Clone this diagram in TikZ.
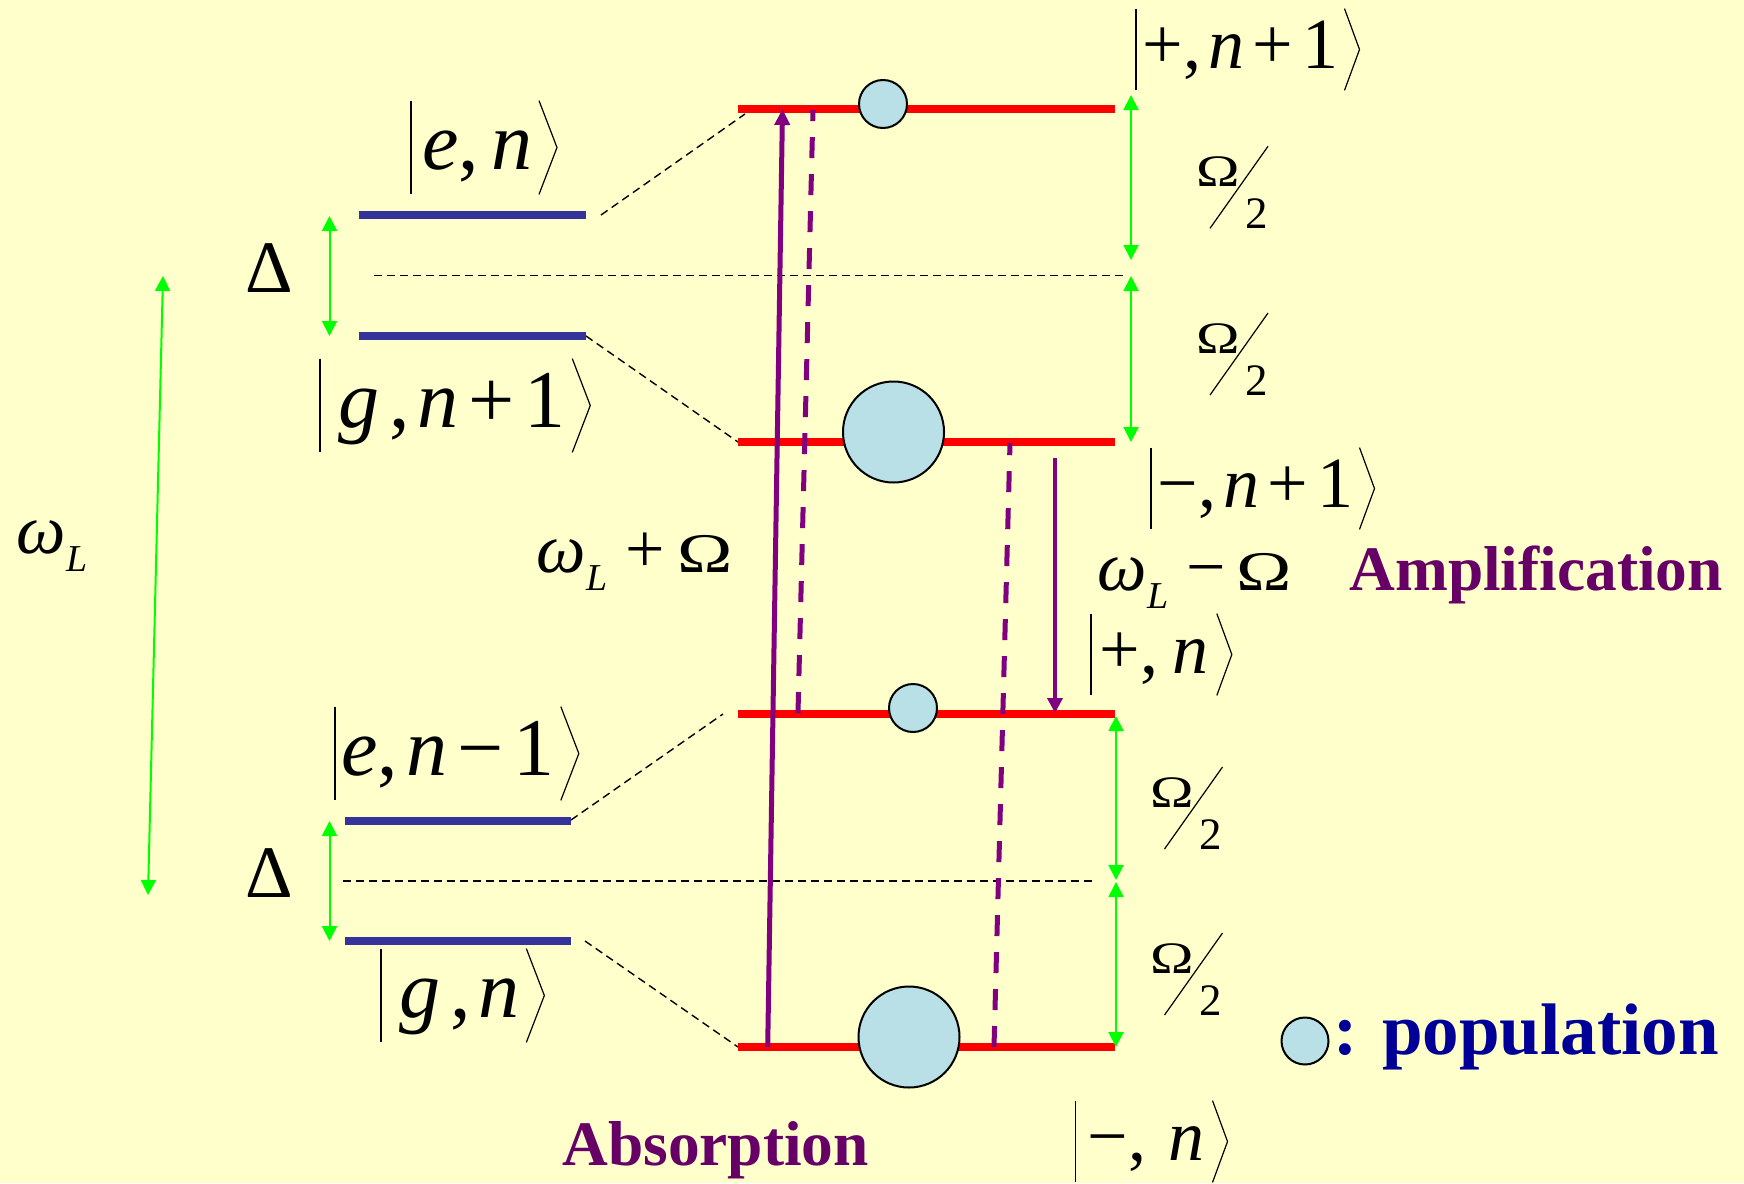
\documentclass[tikz,border=0pt]{standalone}
\usepackage{fontspec}
\setmainfont{Liberation Serif}
\usetikzlibrary{arrows.meta}
\definecolor{bgyel}{HTML}{FFFFCC}
\definecolor{lvlblue}{HTML}{333399}
\definecolor{lvlred}{HTML}{FF0000}
\definecolor{gapgreen}{HTML}{00FF00}
\definecolor{purp}{HTML}{800080}
\definecolor{purptext}{HTML}{660066}
\definecolor{navy}{HTML}{000099}
\definecolor{popfill}{HTML}{B8E0E6}
\newcommand\kgap{\hspace{0.12em}}
\newcommand\ketlabel[5]{%
  \node[#1] (#2) at #3 {#5};
  \draw[ketline] (#2.north west) -- (#2.south west);
  \draw[ketline] (#2.north east) -- ([xshift=#4]#2.east) -- (#2.south east);
}
\newcommand\halfOm[3]{%
  \coordinate (#1) at (#2,#3);
  \node[lbl, font={\fontsize{22.5}{22.5}\selectfont}] (#1-o) at ([shift={(-14,-41.6)}]#1) {\scalebox{1.3}[1]{Ω}};
  \node[lbl, font={\fontsize{22.5}{22.5}\selectfont}] (#1-t) at ([shift={(35,0)}]#1) {2};
  \coordinate (#1-e) at ([shift={(58,-82)}]#1);
  \draw[ketline] (#1) -- (#1-e);
}
\newcommand\omL{{\itshape ω}\kern0.5pt\raisebox{-9.3pt}{\fontsize{19}{19}\selectfont\itshape L}}
\newcommand\bigOm{{\fontsize{28}{28}\selectfont\scalebox{1.33}[1]{Ω}}}
\begin{document}
\begin{tikzpicture}[x=0.5pt,y=-0.5pt,
  redlvl/.style={draw=lvlred, line width=3.8pt},
  bluelvl/.style={draw=lvlblue, line width=4pt},
  guide/.style={draw=black, line width=0.7pt, dash pattern=on 4pt off 2.5pt},
  pop/.style={circle, draw=black, line width=1pt, fill=popfill, inner sep=0pt},
  gaparrow/.style={draw=gapgreen, line width=1pt, {Triangle[width=7.5pt,length=7.5pt]}-{Triangle[width=7.5pt,length=7.5pt]}},
  absarrow/.style={draw=purp, line width=2.5pt, -{Triangle[width=7.5pt,length=8pt]}},
  emarrow/.style={draw=purp, line width=1.8pt, -{Triangle[width=7.5pt,length=7.5pt]}},
  emdash/.style={draw=purp, line width=2.5pt, dash pattern=on 10.5pt off 8pt},
  ketline/.style={draw=black, line width=0.6pt},
  ket/.style={anchor=base west, inner xsep=3pt, inner ysep=0pt},
  ketL/.style={ket, font={\fontsize{41}{41}\selectfont}, text height=34pt, text depth=12.5pt},
  ketR/.style={ket, font={\fontsize{36}{36}\selectfont}, text height=29.5pt, text depth=11pt},
  lbl/.style={anchor=base west, inner sep=0pt}
]
\fill[bgyel] (0,0) rectangle (1744,1183);
\useasboundingbox (0,0) rectangle (1744,1183);

% coordinates of levels
\coordinate (b1l) at (359,215); \coordinate (b1r) at (586,215);
\coordinate (b2l) at (359,336); \coordinate (b2r) at (586,336);
\coordinate (b3l) at (345,821); \coordinate (b3r) at (571,821);
\coordinate (b4l) at (345,941); \coordinate (b4r) at (571,941);
\coordinate (r1l) at (738,109); \coordinate (r1r) at (1115,109);
\coordinate (r2l) at (738,442); \coordinate (r2r) at (1115,442);
\coordinate (r3l) at (738,714); \coordinate (r3r) at (1115,714);
\coordinate (r4l) at (738,1047); \coordinate (r4r) at (1115,1047);

% dashed guides
\coordinate (m1l) at (374,275.5); \coordinate (m1r) at (1126,275.5);
\coordinate (m2l) at (343,881); \coordinate (m2r) at (1094,881);
\draw[guide] (m1l) -- (m1r);
\draw[guide] (m2l) -- (m2r);
\coordinate (d1a) at (601,215); \coordinate (d1b) at (745,114);
\coordinate (d3a) at (571,820); \coordinate (d3b) at (723,714);
\coordinate (d4a) at (585,941);
\draw[guide] (d1a) -- (d1b);
\draw[guide] (b2r) -- (r2l);
\draw[guide] (d3a) -- (d3b);
\draw[guide] (d4a) -- (r4l);

% levels
\draw[bluelvl] (b1l) -- (b1r);
\draw[bluelvl] (b2l) -- (b2r);
\draw[bluelvl] (b3l) -- (b3r);
\draw[bluelvl] (b4l) -- (b4r);
\draw[redlvl] (r1l) -- (r1r);
\draw[redlvl] (r2l) -- (r2r);
\draw[redlvl] (r3l) -- (r3r);
\draw[redlvl] (r4l) -- (r4r);

% populations
\node[pop, minimum size=24pt] (c1) at (883,104) {};
\node[pop, minimum size=50.5pt] (c2) at (893.5,432) {};
\node[pop, minimum size=24pt] (c3) at (913,708) {};
\node[pop, minimum size=50.5pt] (c4) at (909,1037) {};
\node[pop, minimum size=23.5pt] (cleg) at (1305,1041) {};

% purple transitions
\coordinate (p1a) at (767.7,1047); \coordinate (p1b) at (782.5,109);
\coordinate (p2a) at (798,713); \coordinate (p2b) at (813,110);
\coordinate (p3a) at (994,1047); \coordinate (p3b) at (1010,443);
\coordinate (p4a) at (1055,458); \coordinate (p4b) at (1055,713);
\draw[absarrow] (p1a) -- (p1b);
\draw[emdash] (p2a) -- (p2b);
\draw[emdash] (p3a) -- (p3b);
\draw[emarrow] (p4a) -- (p4b);

% green gaps
\coordinate (g1a) at (1131,95); \coordinate (g1b) at (1131,260);
\coordinate (g2a) at (1131,276); \coordinate (g2b) at (1131,442);
\coordinate (g3a) at (1116,716); \coordinate (g3b) at (1116,880);
\coordinate (g4a) at (1116,882); \coordinate (g4b) at (1116,1047);
\coordinate (g5a) at (329.5,216); \coordinate (g5b) at (329.5,336);
\coordinate (g6a) at (329.5,821); \coordinate (g6b) at (329.5,941);
\coordinate (g7a) at (163,276); \coordinate (g7b) at (148,895);
\draw[gaparrow] (g1a) -- (g1b);
\draw[gaparrow] (g2a) -- (g2b);
\draw[gaparrow] (g3a) -- (g3b);
\draw[gaparrow] (g4a) -- (g4b);
\draw[gaparrow] (g5a) -- (g5b);
\draw[gaparrow] (g6a) -- (g6b);
\draw[gaparrow] (g7a) -- (g7b);

% kets
\ketlabel{ketR}{kp1}{(1136,68)}{7.5pt}{+,\kern0.1em\textit{n}\kgap+\kgap1}
\ketlabel{ketR}{km1}{(1151,507)}{7.5pt}{−,\kern0.1em\textit{n}\kgap+\kgap1}
\ketlabel{ketR}{kp0}{(1091,673)}{7.5pt}{\kern1pt+,\kern0.2em\textit{n}\kern1pt}
\ketlabel{ketR}{km0}{(1075.5,1160)}{7.5pt}{\kern3pt−,\kern0.3em\textit{n}\kern1pt}
\ketlabel{ketL}{ken}{(411,169)}{9pt}{\kern2.5pt\textit{e},\kern0.15em\textit{n}}
\ketlabel{ketL}{kgn1}{(320,427)}{9pt}{\kern6pt\textit{g}\kern0.12em,\kern0.1em\textit{n}\kgap+\kgap1}
\ketlabel{ketL}{kenm}{(335,775)}{9pt}{\textit{e},\kern0.1em\textit{n}\kgap−\kgap1}
\ketlabel{ketL}{kgn}{(381,1017)}{9pt}{\kern6pt\textit{g}\kern0.12em,\kern0.1em\textit{n}}

% Omega/2 labels
\halfOm{h1}{1210}{228.3}
\halfOm{h2}{1210}{395}
\halfOm{h3}{1164.5}{849}
\halfOm{h4}{1164.5}{1015}

% Delta labels
\node[lbl, font={\fontsize{37}{37}\selectfont}] (dl1) at (245,292) {Δ};
\node[lbl, font={\fontsize{37}{37}\selectfont}] (dl2) at (245,897) {Δ};

% frequencies
\node[lbl, font={\fontsize{35}{35}\selectfont}] (wl) at (16,553) {\omL};
\node[lbl, font={\fontsize{35}{35}\selectfont}] (wlp) at (536,572) {\omL\hspace{9pt}+\hspace{6pt}\bigOm};
\node[lbl, font={\fontsize{35}{35}\selectfont}] (wlm) at (1097,590) {\omL\hspace{9pt}−\hspace{5pt}\bigOm};

% words
\node[lbl, font={\fontsize{31.7}{31.7}\selectfont\bfseries}, text=purptext] (amp) at (1349,590) {Amplification};
\node[lbl, font={\fontsize{31.7}{31.7}\selectfont\bfseries}, text=purptext] (abs) at (562,1165) {Absorption};
\node[lbl, font={\fontsize{36.5}{36.5}\selectfont\bfseries}, text=navy] (leg) at (1333,1054) {: population};
\end{tikzpicture}
\end{document}
